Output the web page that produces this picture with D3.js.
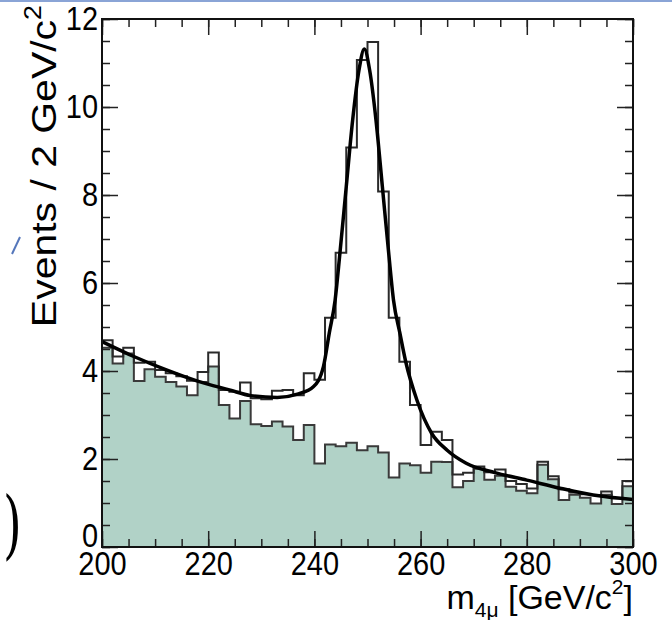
<!DOCTYPE html>
<html>
<head>
<meta charset="utf-8">
<script src="https://cdn.jsdelivr.net/npm/d3@7"></script>
<style>
  body { margin: 0; background: #fff; }
  svg { display: block; font-family: "Liberation Sans", Arial, sans-serif; }
</style>
</head>
<body>
<script>
// bins of 2 GeV/c2 from 200 to 300
const binLow = d3.range(200, 300, 2);

// background only (filled)
const background = [4.53, 4.17, 4.40, 3.77, 4.04, 3.87, 3.75, 3.65, 3.45, 3.75,
	4.10, 3.23, 2.92, 3.32, 2.79, 2.75, 2.85, 2.74, 2.43, 2.77,
	1.90, 2.33, 2.29, 2.37, 2.20, 2.29, 2.15, 1.58, 1.90, 1.86,
	1.69, 1.94, 1.93, 1.36, 1.50, 1.78, 1.53, 1.62, 1.37, 1.28,
	1.22, 1.87, 1.54, 1.07, 1.19, 1.12, 0.99, 1.19, 0.98, 1.38];

// signal + background (outline)
const total = [4.70, 4.33, 4.53, 4.19, 4.21, 4.02, 3.95, 3.88, 3.78, 3.98,
	4.42, 3.57, 3.53, 3.74, 3.38, 3.36, 3.55, 3.57, 3.45, 3.95,
	3.80, 5.21, 6.69, 9.08, 11.07, 11.48, 8.08, 5.21, 4.21, 3.23,
	2.32, 2.62, 2.43, 1.65, 1.69, 1.83, 1.70, 1.76, 1.50, 1.43,
	1.33, 1.94, 1.61, 1.31, 1.24, 1.20, 1.18, 1.26, 1.11, 1.50];

// fit curve
const fitMass = [200, 206, 212, 218, 224, 228, 233, 237, 239.8, 241.7, 242.8, 243.9, 244.8, 246.0,
	247.2, 248.4, 249.4, 250.4, 251.6, 252.8, 254.0, 254.9, 256.1, 257.2, 259.3, 262.1, 265,
	268.5, 274, 280, 286.5, 292.5, 300];
const fitValue = [4.67, 4.33, 4.03, 3.77, 3.57, 3.44, 3.40, 3.48, 3.64, 4.10, 4.86, 5.61, 6.67, 8.19,
	9.70, 10.84, 11.32, 10.84, 9.70, 8.19, 6.67, 5.61, 4.86, 4.21, 3.34, 2.58, 2.20,
	1.91, 1.69, 1.52, 1.33, 1.18, 1.08];

const xMajor = [200, 220, 240, 260, 280, 300];
const xMinor = d3.range(200, 301, 5);
const yMajor = [0, 2, 4, 6, 8, 10, 12];
const yMinor = d3.range(0, 12.01, 0.5);

const W = 672, H = 620;
const M = { left: 102, right: 633, top: 19, bottom: 547 };
const MAJOR = 16, MINOR = 8;
const STRETCH = 1.12; // the source picture is a bit taller than wide

const svg = d3.select('body').append('svg')
	.attr('width', W)
	.attr('height', H);

const x = d3.scaleLinear().domain([200, 300]).range([M.left, M.right]);
const y = d3.scaleLinear().domain([0, 12]).range([M.bottom, M.top]);

/* slide leftovers round the figure */
svg.append('rect')
	.attr('x', 0).attr('y', 0)
	.attr('width', W).attr('height', 2)
	.attr('fill', '#8aa4d6');
svg.append('line')
	.attr('x1', 12).attr('y1', 254)
	.attr('x2', 20).attr('y2', 237)
	.attr('stroke', '#5577bb')
	.attr('stroke-width', 2);
svg.append('text')
	.attr('transform', 'translate(3,550) scale(0.8,1.25)')
	.attr('font-family', '"DejaVu Serif", serif')
	.attr('font-size', 60)
	.text(')');

/* histograms */
const steps = vals => binLow.map((b, i) => [b, vals[i]]).concat([[300, vals[vals.length - 1]]]);

const area = d3.area()
	.x(d => x(d[0]))
	.y0(y(0))
	.y1(d => y(d[1]))
	.curve(d3.curveStepAfter);

const line = d3.line()
	.x(d => x(d[0]))
	.y(d => y(d[1]))
	.curve(d3.curveStepAfter);

svg.append('path')
	.datum(steps(background))
	.attr('d', area)
	.attr('fill', '#b1d2c7');

svg.append('path')
	.datum(steps(background))
	.attr('d', line)
	.attr('fill', 'none')
	.attr('stroke', '#3a3a3a')
	.attr('stroke-width', 2);

svg.append('path')
	.datum(steps(total))
	.attr('d', line)
	.attr('fill', 'none')
	.attr('stroke', '#2a2a2a')
	.attr('stroke-width', 2);

/* fit */
svg.append('path')
	.datum(fitMass.map((m, i) => [m, fitValue[i]]))
	.attr('d', d3.line().x(d => x(d[0])).y(d => y(d[1])).curve(d3.curveMonotoneX))
	.attr('fill', 'none')
	.attr('stroke', '#000')
	.attr('stroke-width', 3.5);

/* axes, ticks inward on all four sides */
function addAxis(axisFn, scale, values, size, transform, labels) {
	const g = svg.append('g')
		.attr('transform', transform)
		.call(axisFn(scale)
			.tickValues(values)
			.tickSizeInner(-size)
			.tickSizeOuter(0)
			.tickPadding(4)
			.tickFormat(labels ? d3.format('d') : ''));
	g.select('.domain').remove();
	g.selectAll('line').attr('stroke', '#222').attr('stroke-width', 1.5);
	g.selectAll('text')
		.attr('fill', '#000')
		.attr('font-size', 29)
		.attr('transform', `scale(1,${STRETCH})`)
		.attr('font-family', '"Liberation Sans", Arial, sans-serif');
	return g;
}

addAxis(d3.axisBottom, x, xMinor, MINOR, `translate(0,${M.bottom})`, false);
addAxis(d3.axisBottom, x, xMajor, MAJOR, `translate(0,${M.bottom})`, true);
addAxis(d3.axisTop, x, xMinor, MINOR, `translate(0,${M.top})`, false);
addAxis(d3.axisTop, x, xMajor, MAJOR, `translate(0,${M.top})`, false);
addAxis(d3.axisLeft, y, yMinor, MINOR, `translate(${M.left},0)`, false);
const yAxis = addAxis(d3.axisLeft, y, yMajor, MAJOR, `translate(${M.left},0)`, true);
addAxis(d3.axisRight, y, yMinor, MINOR, `translate(${M.right},0)`, false);
addAxis(d3.axisRight, y, yMajor, MAJOR, `translate(${M.right},0)`, false);

// lift the "0" a little so it sits on top of "200"
yAxis.selectAll('.tick').filter(d => d === 0).select('text').attr('dy', '-0.02em');

svg.append('rect')
	.attr('x', M.left).attr('y', M.top)
	.attr('width', M.right - M.left).attr('height', M.bottom - M.top)
	.attr('fill', 'none')
	.attr('stroke', '#111')
	.attr('stroke-width', 2);

/* axis titles */
const yTitle = svg.append('text')
	.attr('transform', 'translate(56,5) rotate(-90) scale(1.17,1)')
	.attr('text-anchor', 'end')
	.attr('font-size', 35);
yTitle.append('tspan').text('Events / 2 GeV/c');
yTitle.append('tspan').attr('font-size', 23).attr('dy', -15).text('2');

const xTitle = svg.append('text')
	.attr('transform', `translate(${M.right},609)`)
	.attr('text-anchor', 'end')
	.attr('font-size', 34);
xTitle.append('tspan').text('m');
xTitle.append('tspan').attr('font-size', 21).attr('dy', 8).text('4μ');
xTitle.append('tspan').attr('dy', -8).text(' [GeV/c');
xTitle.append('tspan').attr('font-size', 21).attr('dy', -15).text('2');
xTitle.append('tspan').attr('dy', 15).text(']');
</script>
</body>
</html>
